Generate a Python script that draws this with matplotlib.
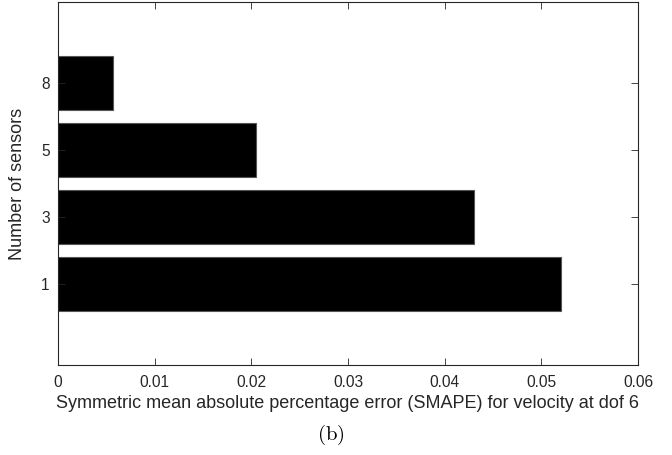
import matplotlib
matplotlib.use("Agg")
import matplotlib.pyplot as plt

# Data
sensor_labels = ["1", "3", "5", "8"]
positions = [1, 2, 3, 4]
smape_values = [0.0520, 0.0430, 0.0205, 0.0057]
x_ticks = [0, 0.01, 0.02, 0.03, 0.04, 0.05, 0.06]
x_tick_labels = ["0", "0.01", "0.02", "0.03", "0.04", "0.05", "0.06"]

plt.rcParams['font.family'] = ['Liberation Sans', 'DejaVu Sans']
plt.rcParams['mathtext.fontset'] = 'cm'

fig = plt.figure(figsize=(6.72, 4.55), dpi=100)
ax = fig.add_axes([58 / 672, 90 / 455, 580 / 672, 363 / 455])

ax.barh(positions, smape_values, height=0.8, color="black",
        edgecolor="#555555", linewidth=0.8)

ax.set_xlim(0, 0.06)
ax.set_ylim(-0.21, 5.21)
ax.set_xticks(x_ticks)
ax.set_xticklabels(x_tick_labels)
ax.set_yticks(positions)
ax.set_yticklabels(sensor_labels)

ax.tick_params(direction="in", top=True, right=True, length=5, width=0.6,
               colors="#262626", labelsize=11.2, labelcolor="#262626")
ax.tick_params(axis="x", pad=7)
ax.tick_params(axis="y", pad=6)
for side in ax.spines.values():
    side.set_color("#262626")
    side.set_linewidth(0.8)

ax.set_xlabel("Symmetric mean absolute percentage error (SMAPE) for velocity at dof 6",
              fontsize=13, color="#262626", labelpad=4)
ax.set_ylabel("Number of sensors", fontsize=13, color="#262626", labelpad=11)

# subfigure caption
fig.text(331 / 672, 1 - 435 / 455, r"$\mathrm{(b)}$", ha="center", va="center",
         fontsize=15)

fig.savefig("out.png", dpi=100)
